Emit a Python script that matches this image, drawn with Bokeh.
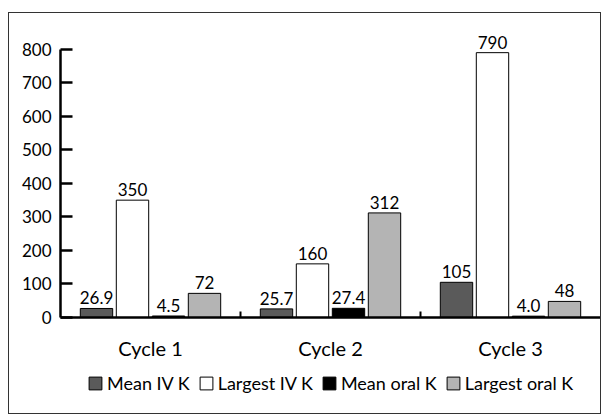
from bokeh.plotting import figure
from bokeh.layouts import column
from bokeh.models import (ColumnDataSource, Range1d, LinearAxis, FixedTicker, Legend, LegendItem)
from bokeh.transform import dodge
from bokeh.core.properties import value
from bokeh.embed import file_html
from bokeh.resources import INLINE

cycles = ["Cycle 1", "Cycle 2", "Cycle 3"]
series_names = ["Mean IV K", "Largest IV K", "Mean oral K", "Largest oral K"]
mean_iv = [26.9, 25.7, 105]
largest_iv = [350, 160, 790]
mean_oral = [4.5, 27.4, 4.0]
largest_oral = [72, 312, 48]
mean_iv_labels = ["26.9", "25.7", "105"]
largest_iv_labels = ["350", "160", "790"]
mean_oral_labels = ["4.5", "27.4", "4.0"]
largest_oral_labels = ["72", "312", "48"]
y_ticks = [0, 100, 200, 300, 400, 500, 600, 700, 800]

series_values = [mean_iv, largest_iv, mean_oral, largest_oral]
series_labels = [mean_iv_labels, largest_iv_labels, mean_oral_labels, largest_oral_labels]
colors = ["#5a5a5a", "#ffffff", "#000000", "#b4b4b4"]
offsets = [-0.3, -0.1, 0.1, 0.3]
FONT = "Lato"

n = len(cycles)
centers = [i + 0.5 for i in range(n)]

p = figure(x_range=Range1d(0, n), y_range=Range1d(0, 880),
           width=591, height=350, output_backend="svg", toolbar_location=None,
           x_axis_location=None, y_axis_location=None,
           min_border_left=51, min_border_right=0, min_border_top=9, min_border_bottom=46)
p.outline_line_color = None
p.xgrid.grid_line_color = None
p.ygrid.grid_line_color = None

yaxis = LinearAxis(bounds=(0, 800), ticker=FixedTicker(ticks=y_ticks))
yaxis.axis_line_width = 2.5
yaxis.major_tick_line_width = 2.5
yaxis.major_tick_in = 12
yaxis.major_tick_out = 0
yaxis.minor_tick_line_color = None
yaxis.major_label_text_font = FONT
yaxis.major_label_text_font_size = "17px"
yaxis.major_label_text_color = "black"
yaxis.major_label_standoff = 9
p.add_layout(yaxis, "left")

tick_axis = LinearAxis(ticker=FixedTicker(ticks=list(range(1, n))))
tick_axis.axis_line_width = 2.5
tick_axis.major_tick_line_width = 2
tick_axis.major_tick_in = 6
tick_axis.major_tick_out = 0
tick_axis.minor_tick_line_color = None
tick_axis.major_label_overrides = {i: "" for i in range(1, n)}
tick_axis.major_label_text_font_size = "1px"
tick_axis.major_label_standoff = 0
p.add_layout(tick_axis, "below")

cat_axis = LinearAxis(ticker=FixedTicker(ticks=centers))
cat_axis.major_label_overrides = {c: name for c, name in zip(centers, cycles)}
cat_axis.axis_line_color = None
cat_axis.major_tick_line_color = None
cat_axis.minor_tick_line_color = None
cat_axis.major_label_text_font = FONT
cat_axis.major_label_text_font_size = "20px"
cat_axis.major_label_text_color = "black"
cat_axis.major_label_standoff = 12
p.add_layout(cat_axis, "below")

# legend strip (its own figure; its ranges keep the proxy bars out of view)
lg = figure(x_range=Range1d(10 * n, 10 * n + 1), y_range=Range1d(10000, 10001), width=591, height=50,
            output_backend="svg", toolbar_location=None,
            x_axis_location=None, y_axis_location=None, min_border=0)
lg.outline_line_color = None
lg.xgrid.grid_line_color = None
lg.ygrid.grid_line_color = None

items = []
for name, vals, labs, col, off in zip(series_names, series_values, series_labels, colors, offsets):
    src = ColumnDataSource(dict(x=centers, top=vals, label=labs))
    p.vbar(x=dodge("x", off), top="top", width=0.18, source=src,
           fill_color=col, line_color="black", line_width=1)
    p.text(x=dodge("x", off), y="top", text="label", source=src,
           y_offset=-4, text_align="center", text_baseline="bottom",
           text_font=value(FONT), text_font_size="17px", text_color="black")
    proxy = lg.vbar(x=dodge("x", off), top="top", width=0.18, source=src,
                    fill_color=col, line_color="black", line_width=1)
    items.append(LegendItem(label=name, renderers=[proxy]))

legend = Legend(items=items, orientation="horizontal", location=(27, 19),
                glyph_width=16, glyph_height=16, label_standoff=4, spacing=8,
                padding=0, margin=0, border_line_color=None, background_fill_alpha=0,
                label_text_font=FONT, label_text_font_size="18px", label_text_color="black")
lg.add_layout(legend, "center")

layout = column(p, lg, spacing=0,
                styles={"border": "1px solid #333", "margin-left": "8px", "margin-top": "12px"})

open("out.html", "w").write(file_html(layout, INLINE))
